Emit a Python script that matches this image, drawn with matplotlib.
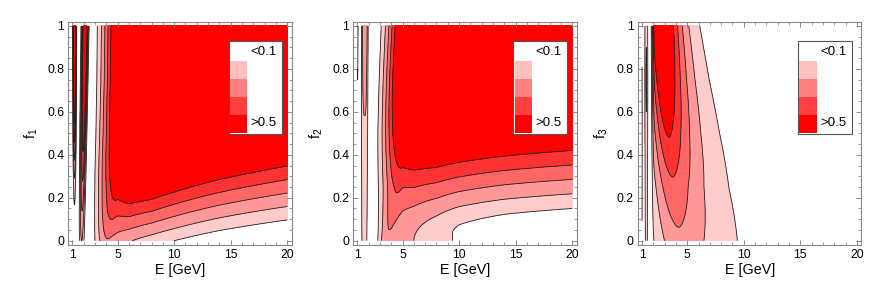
import numpy as np
import matplotlib
matplotlib.use("Agg")
import matplotlib.pyplot as plt
from matplotlib.patches import Rectangle
from matplotlib.ticker import MultipleLocator

plt.rcParams['font.family'] = ['Liberation Sans', 'DejaVu Sans']
plt.rcParams['mathtext.default'] = 'regular'

# contour levels, band colours and legend
levels = [0.1, 0.2, 0.3, 0.4, 0.5]
band_colors = ['#ffffff', '#ffcccc', '#ff9999', '#ff6666', '#ff3333', '#ff0000']
legend_colors = ['#ffbfbf', '#ff8080', '#ff4040', '#ff0000']
legend_labels = ['<0.1', '>0.5']

x_ticks = [1, 5, 10, 15, 20]
y_ticks = [0, 0.2, 0.4, 0.6, 0.8, 1]
y_names = ['$f_1$', '$f_2$', '$f_3$']

# knots (E in GeV, fraction f) used to describe the surfaces
E_knots = [2, 3, 4, 5, 6, 8, 10, 14, 20]
f_knots = [0, 0.25, 0.5, 0.75, 1]

# panel 1: rising part  sqrt(c^2 + (a + b*f)^2), capped
a_1 = [0.45, 0.36, 0.30, 0.25, 0.21, 0.15, 0.10, 0.02, -0.055]
b_1 = [2.0, 1.8, 1.3, 1.3, 1.7, 1.83, 1.77, 1.69, 1.6]
c_1 = [0, 0, 0, 0, 0, 0, 0, 0, 0]
cap_1 = 1.0
# panel 2
a_2 = [0.30, 0.12, 0.08, 0.02, 0.0, -0.03, -0.06, -0.10, -0.13]
b_2 = [1.3, 1.3, 1.25, 1.25, 1.4, 1.5, 1.52, 1.52, 1.5]
c_2 = [0.26, 0.26, 0.26, 0.23, 0.20, 0.14, 0.085, 0.05, 0.03]
cap_2 = 1.0

# panel 3: one ridge; height, peak position and width at f_knots
peak_3 = [0.275, 0.375, 0.51, 0.65, 0.8]
Epeak_3 = [4.4, 3.8, 3.35, 3.0, 2.7]
width_3 = [0.757, 0.70, 0.64, 0.58, 0.53]

# threshold (zero) position and rise width at f_knots
Ezero = [[2.32, 2.33, 2.35, 2.36, 2.37],
         [2.29, 2.05, 2.04, 2.15, 2.27],
         [1.65, 1.65, 1.65, 1.65, 1.65]]
Erise = [[1.92, 2.8, 3.5, 3.9, 4.07],
         [1.32, 2.83, 3.36, 3.7, 4.07],
         [0.4, 0.42, 0.45, 0.48, 0.5]]

# low-energy lobes: centre at f=0 and f=1, width, exponent, height at f_knots
lobes_1 = [((1.82, 2.12), 0.24, 2, [0.2, 0.38, 0.56, 0.75, 0.93]),
           ((1.18, 1.20), 0.12, 2, [0.0, 0.15, 0.45, 0.75, 1.05])]
lobes_2 = [((1.62, 1.66), 0.30, 4, [0.13, 0.16, 0.19, 0.22, 0.25]),
           ((1.02, 1.02), 0.06, 2, [0.0, 0.0, 0.05, 0.10, 0.16])]
lobes_3 = [((1.38, 1.38), 0.15, 2, [0.14, 0.16, 0.19, 0.215, 0.19]),
           ((1.00, 1.00), 0.03, 2, [0.095, 0.108, 0.11, 0.102, 0.092])]

E = np.linspace(1, 20, 2500)
f = np.linspace(0, 1, 400)
EE, FF = np.meshgrid(E, f)


def knot(vals):
    return np.interp(np.log(EE), np.log(E_knots), vals)


def onset(i):
    ez = np.interp(FF, f_knots, Ezero[i])
    dz = np.interp(FF, f_knots, Erise[i])
    x = np.clip((EE - ez) / dz, 0, 1)
    return np.sin(np.pi / 2 * x) ** 2


def lobe_sum(lobes):
    z = np.zeros_like(EE)
    for (c0, c1), w, k, amp in lobes:
        A = np.interp(FF, f_knots, amp)
        ec = c0 + (c1 - c0) * FF
        z += A * np.exp(-np.abs((EE - ec) / w) ** k)
    return z


def rising(a, b, c, cap):
    lin = np.maximum(knot(a) + knot(b) * FF, 0)
    h = np.sqrt(knot(c) ** 2 + lin ** 2) + 1e-9
    return (h ** -6 + cap ** -6) ** (-1 / 6)


def ridge():
    A = np.interp(FF, f_knots, peak_3)
    mu = np.interp(FF, f_knots, np.log(Epeak_3))
    s = np.interp(FF, f_knots, width_3)
    return A * np.exp(-(np.abs(np.log(EE) - mu) / s) ** 1.7)


Z = [onset(0) * rising(a_1, b_1, c_1, cap_1) + lobe_sum(lobes_1),
     onset(1) * rising(a_2, b_2, c_2, cap_2) + lobe_sum(lobes_2),
     onset(2) * ridge() + lobe_sum(lobes_3)]

fig = plt.figure(figsize=(8.93, 2.96), dpi=100)
lefts = [0.0765, 0.3956, 0.7144]
for i in range(3):
    ax = fig.add_axes([lefts[i], 0.1723, 0.2502, 0.7544])
    ax.contourf(E, f, Z[i], levels=[-10] + levels + [10], colors=band_colors)
    ax.contour(E, f, Z[i], levels=levels, colors='#222222', linewidths=0.6)
    ax.set_xlim(0.64, 20.4)
    ax.set_ylim(-0.02, 1.02)
    ax.set_xticks(x_ticks)
    ax.set_yticks(y_ticks)
    ax.set_yticklabels(['0', '0.2', '0.4', '0.6', '0.8', '1'])
    ax.xaxis.set_minor_locator(MultipleLocator(1))
    ax.yaxis.set_minor_locator(MultipleLocator(0.05))
    ax.tick_params(which='both', direction='in', top=True, right=True,
                   color='#777777', labelsize=8.7, pad=3)
    ax.tick_params(which='major', length=3.5, width=0.6)
    ax.tick_params(which='minor', length=2, width=0.5)
    for sp in ax.spines.values():
        sp.set_color('#888888')
        sp.set_linewidth(0.8)
    ax.set_xlabel('E [GeV]', fontsize=10.3, labelpad=1)
    ax.set_ylabel(y_names[i], fontsize=10.3, labelpad=5)

    # legend box
    ax.add_patch(Rectangle((0.717, 0.497), 0.241, 0.418, transform=ax.transAxes,
                           facecolor='white', edgecolor='#555555', lw=0.8, zorder=5))
    for k, col in enumerate(legend_colors):
        ax.add_patch(Rectangle((0.722, 0.745 - k * 0.081), 0.078, 0.081,
                               transform=ax.transAxes, facecolor=col,
                               edgecolor='none', zorder=6))
    ax.text(0.816, 0.866, legend_labels[0], transform=ax.transAxes,
            fontsize=9.5, va='center', ha='left', zorder=7)
    ax.text(0.816, 0.545, legend_labels[1], transform=ax.transAxes,
            fontsize=9.5, va='center', ha='left', zorder=7)

fig.savefig('out.png', dpi=100)
